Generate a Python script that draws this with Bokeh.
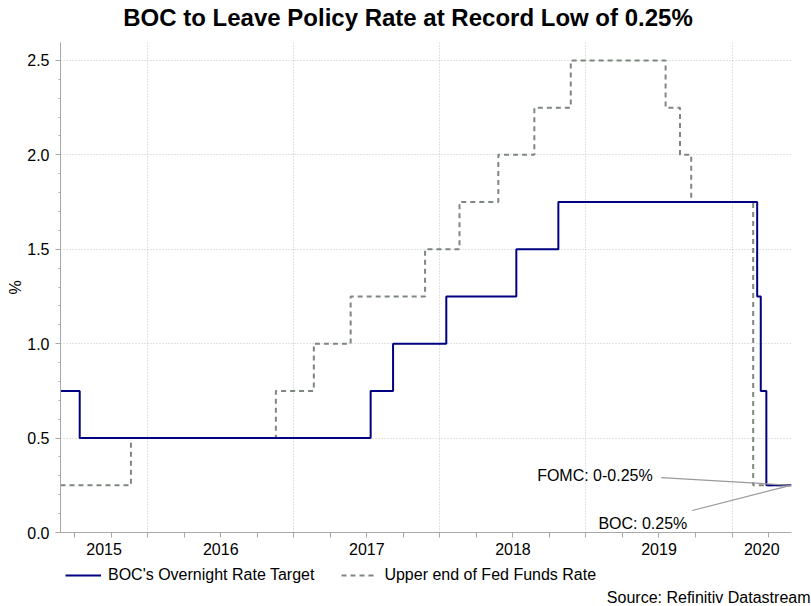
import pandas as pd
from bokeh.plotting import figure
from bokeh.layouts import column
from bokeh.models import (FixedTicker, LinearAxis, Legend, LegendItem, Label, Title,
                          Range1d, SingleIntervalTicker, Grid, NumeralTickFormatter)
from bokeh.embed import file_html
from bokeh.resources import INLINE
from bokeh.core.properties import value

# ---------------- data ----------------
start_date = "2015-05-28"
end_date = "2020-05-29"

boc_dates = ["2015-05-28", "2015-07-15", "2017-07-12", "2017-09-06", "2018-01-17",
             "2018-07-11", "2018-10-24", "2020-03-04", "2020-03-13", "2020-03-27",
             "2020-05-29"]
boc_rates = [0.75, 0.50, 0.75, 1.00, 1.25, 1.50, 1.75, 1.25, 0.75, 0.25, 0.25]

fed_dates = ["2015-05-28", "2015-11-20", "2016-11-17", "2017-02-20", "2017-05-23",
             "2017-11-25", "2018-02-19", "2018-05-27", "2018-08-25", "2018-11-24",
             "2019-07-19", "2019-08-24", "2019-09-21", "2020-02-23", "2020-05-29"]
fed_rates = [0.25, 0.50, 0.75, 1.00, 1.25, 1.50, 1.75, 2.00, 2.25, 2.50,
             2.25, 2.00, 1.75, 0.25, 0.25]

years = [2015, 2016, 2017, 2018, 2019, 2020]
year_labels = ["2015", "2016", "2017", "2018", "2019", "2020"]

series_names = ["BOC's Overnight Rate Target", "Upper end of Fed Funds Rate"]
title_text = "BOC to Leave Policy Rate at Record Low of 0.25%"
source_text = "Source: Refinitiv Datastream"
fomc_note = "FOMC: 0-0.25%"
boc_note = "BOC: 0.25%"


def dec_year(s):
    d = pd.Timestamp(s)
    a = pd.Timestamp(year=d.year, month=1, day=1)
    b = pd.Timestamp(year=d.year + 1, month=1, day=1)
    return d.year + (d - a) / (b - a)


x0, x1 = dec_year(start_date), dec_year(end_date)
boc_x = [dec_year(s) for s in boc_dates]
fed_x = [dec_year(s) for s in fed_dates]
Y_TOP = 2.595

FONT = "Liberation Sans"
BOC_COLOR = "#000080"
FED_COLOR = "#7d877d"
AXIS_COLOR = "#a8a8a8"
GRID_COLOR = "#c4c4c4"

# layout (pixels)
BL, BR = 60, 20          # left / right borders shared by all strips
FW, FH = 731, 490        # plot frame
H_TOP = 42               # title strip
BB = 32                  # bottom border of the chart (x axis)
H_BOT = 41               # legend + source strip


def blank(h):
    f = figure(frame_width=FW, height=h, x_range=Range1d(BL, BL + FW),
               y_range=Range1d(0, h), output_backend="svg", toolbar_location=None,
               x_axis_location=None, y_axis_location=None,
               min_border_left=BL, min_border_right=BR,
               min_border_top=0, min_border_bottom=0)
    f.outline_line_color = None
    f.xgrid.visible = False
    f.ygrid.visible = False
    f.border_fill_color = "white"
    f.background_fill_color = "white"
    return f


# ---------- title strip ----------
ft = blank(H_TOP)
ft.add_layout(Label(x=407.5, y=H_TOP - 17, text=title_text, text_align="center",
                    text_baseline="middle", text_font=FONT, text_font_size="24px",
                    text_font_style="bold", text_color="black"))

# ---------- main chart ----------
p = figure(frame_width=FW, frame_height=FH, x_range=Range1d(x0, x1),
           y_range=Range1d(0, Y_TOP),
           output_backend="svg", toolbar_location=None, x_axis_type=None,
           min_border_left=BL, min_border_right=BR, min_border_top=0,
           min_border_bottom=BB)
p.outline_line_color = None
p.background_fill_color = "white"
p.border_fill_color = "white"

ya = p.yaxis[0]
ya.ticker = SingleIntervalTicker(interval=0.5, num_minor_ticks=5)
ya.formatter = NumeralTickFormatter(format="0.0")
ya.axis_line_color = AXIS_COLOR
ya.major_tick_line_color = AXIS_COLOR
ya.minor_tick_line_color = AXIS_COLOR
ya.major_tick_out = 5
ya.major_tick_in = 0
ya.minor_tick_out = 2
ya.minor_tick_in = 0
ya.major_label_standoff = 6
ya.major_label_text_font = FONT
ya.major_label_text_font_size = "16px"
ya.major_label_text_color = "black"
ya.axis_label = "%"
ya.axis_label_text_font = FONT
ya.axis_label_text_font_size = "16px"
ya.axis_label_text_font_style = "normal"
ya.axis_label_text_color = "black"
ya.axis_label_standoff = 0

bounds = [y for y in years if x0 < y < x1]
quarters = [y + q / 4 for y in years for q in range(4) if x0 < y + q / 4 < x1]
mids = [(max(y, x0) + min(y + 1, x1)) / 2 for y in years]
xa = LinearAxis(ticker=FixedTicker(ticks=mids, minor_ticks=quarters),
                major_label_overrides={m: t for m, t in zip(mids, year_labels)})
xa.axis_line_color = AXIS_COLOR
xa.major_tick_line_color = None
xa.minor_tick_line_color = AXIS_COLOR
xa.minor_tick_out = 5
xa.minor_tick_in = 0
xa.major_tick_out = 5
xa.major_label_standoff = 5
xa.major_label_text_font = FONT
xa.major_label_text_font_size = "16px"
xa.major_label_text_color = "black"
p.add_layout(xa, "below")

p.ygrid.grid_line_color = GRID_COLOR
p.ygrid.grid_line_dash = "1 2"
p.ygrid.ticker = SingleIntervalTicker(interval=0.5)
p.add_layout(Grid(dimension=0, ticker=FixedTicker(ticks=bounds),
                  grid_line_color=GRID_COLOR, grid_line_dash="1 2"))

p.step(fed_x, fed_rates, mode="after", line_color=FED_COLOR, line_width=2,
       line_dash="5 4")
p.step(boc_x, boc_rates, mode="after", line_color=BOC_COLOR, line_width=2)

end_x, end_y = x1 - 0.005, boc_rates[-1]
p.segment(x0=[2019.515, 2019.727], y0=[0.291, 0.1165], x1=[end_x, end_x],
          y1=[end_y, end_y], line_color="#9a9a9a", line_width=1.2)
p.text(x=[2019.457], y=[0.302], text=[fomc_note], text_align="right",
       text_baseline="middle", text_font=value(FONT), text_font_size="16px",
       text_color="black")
p.text(x=[2019.085], y=[0.048], text=[boc_note], text_align="left",
       text_baseline="middle", text_font=value(FONT), text_font_size="16px",
       text_color="black")

# ---------- legend + source strip ----------
fb = blank(H_BOT)
nan = float("nan")
k_boc = fb.line(x=[nan], y=[nan], line_color=BOC_COLOR, line_width=2)
k_fed = fb.line(x=[nan], y=[nan], line_color=FED_COLOR, line_width=2, line_dash="5 4")
legend = Legend(items=[LegendItem(label=series_names[0], renderers=[k_boc]),
                       LegendItem(label=series_names[1], renderers=[k_fed])],
                orientation="horizontal", location=(5, 2))
legend.label_text_font = FONT
legend.label_text_font_size = "16px"
legend.label_text_color = "black"
legend.glyph_width = 36
legend.glyph_height = 16
legend.label_standoff = 7
legend.spacing = 27
legend.padding = 0
legend.margin = 0
legend.border_line_color = None
legend.background_fill_alpha = 0
legend.label_height = 16
fb.add_layout(legend, "center")
fb.add_layout(Title(text=source_text, align="right", text_font=FONT,
                    text_font_size="16px", text_font_style="normal",
                    text_color="black", offset=-19, standoff=0), "below")

layout = column(ft, p, fb, spacing=0)
open("out.html", "w").write(file_html(layout, INLINE))
